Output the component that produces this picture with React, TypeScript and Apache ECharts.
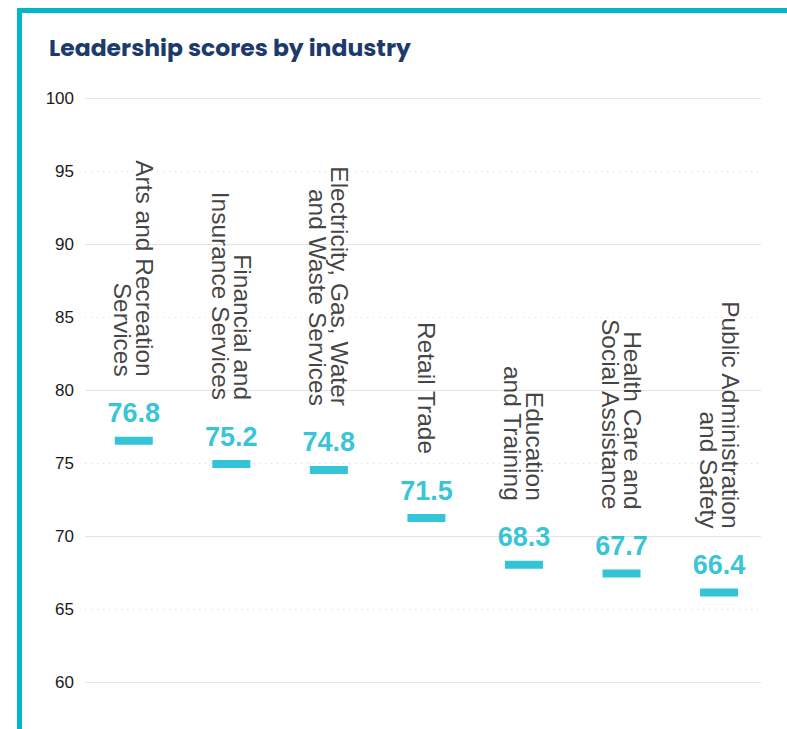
import React, { useEffect, useRef } from "react";
import * as echarts from "echarts";

const categories = [
  "Arts and Recreation\nServices",
  "Financial and\nInsurance Services",
  "Electricity, Gas, Water\nand Waste Services",
  "Retail Trade",
  "Education\nand Training",
  "Health Care and\nSocial Assistance",
  "Public Administration\nand Safety",
];
const scores = [76.8, 75.2, 74.8, 71.5, 68.3, 67.7, 66.4];
const yMin = 60;
const yMax = 100;
const yStep = 5;
const titleText = "Leadership scores by industry";

const CYAN = "#00B6CD";
const NAVY = "#1C3A6B";

export default function App() {
  const ref = useRef<HTMLDivElement>(null);
  useEffect(() => {
    if (!ref.current) return;
    const chart = echarts.init(ref.current, null, { renderer: "svg" });
    const points = scores.map((v, i) => [i, v]);
    chart.setOption({
      animation: false,
      backgroundColor: "#ffffff",
      title: {
        text: titleText,
        left: 44,
        top: 30,
        textStyle: {
          fontFamily: "Poppins, 'Open Sans', sans-serif",
          fontWeight: "bold",
          fontSize: 23.5,
          color: NAVY,
        },
      },
      graphic: [
        { type: "rect", shape: { x: 17, y: 8, width: 770, height: 5 }, style: { fill: CYAN } },
        { type: "rect", shape: { x: 17, y: 8, width: 5, height: 721 }, style: { fill: CYAN } },
      ],
      grid: { left: 85, right: 26, top: 98, bottom: 47 },
      xAxis: {
        type: "value",
        min: -0.5,
        max: 6.43,
        show: false,
        splitLine: { show: false },
      },
      yAxis: [
        {
          type: "value",
          min: yMin,
          max: yMax,
          interval: yStep,
          axisLine: { show: false },
          axisTick: { show: false },
          axisLabel: {
            color: "#1a1a1a",
            fontSize: 17,
            fontFamily: "'Liberation Sans', Arial, sans-serif",
            margin: 11,
          },
          splitLine: { show: true, lineStyle: { color: "#d9d9d9", type: [1, 5], width: 1 } },
        },
        {
          type: "value",
          min: yMin,
          max: yMax,
          interval: yStep * 2,
          position: "left",
          axisLine: { show: false },
          axisTick: { show: false },
          axisLabel: { show: false },
          splitLine: { show: true, lineStyle: { color: "#e4e4e4", type: "solid", width: 1 } },
        },
      ],
      series: [
        {
          type: "scatter",
          data: points,
          symbol: "rect",
          symbolSize: [38, 8],
          symbolOffset: [0, 4],
          silent: true,
          z: 3,
          itemStyle: { color: CYAN },
          label: {
            show: true,
            position: "top",
            distance: 10,
            formatter: (p: any) => Number(p.value[1]).toFixed(1),
            fontSize: 27,
            fontWeight: "bold",
            fontFamily: "'Liberation Sans', Arial, sans-serif",
            color: CYAN,
          },
        },
        {
          type: "scatter",
          data: points,
          symbol: "rect",
          symbolSize: [38, 8],
          symbolOffset: [0, 4],
          silent: true,
          z: 2,
          itemStyle: { color: "rgba(0,0,0,0)" },
          label: {
            show: true,
            position: "top",
            distance: 60,
            rotate: -90,
            align: "right",
            verticalAlign: "middle",
            formatter: (p: any) => categories[p.dataIndex],
            fontSize: 24.5,
            lineHeight: 22,
            fontFamily: "'Liberation Sans', Arial, sans-serif",
            color: "#111111",
          },
        },
      ],
    });
    return () => chart.dispose();
  }, []);
  return (
    <div
      ref={ref}
      style={{ position: "fixed", left: 0, top: 0, width: 787, height: 729 }}
    />
  );
}
